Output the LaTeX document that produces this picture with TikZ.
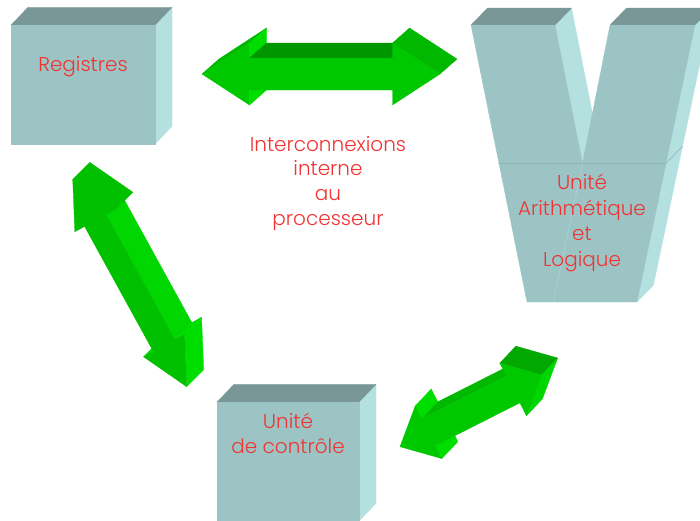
\documentclass[tikz,border=0pt]{standalone}
\usepackage{fontspec}
\newfontfamily\lblfont{Poppins Light}
\usetikzlibrary{calc}

\definecolor{boxfront}{RGB}{157,196,196}
\definecolor{boxtop}{RGB}{120,151,150}
\definecolor{boxside}{RGB}{180,224,224}
\definecolor{boxseam}{RGB}{138,176,176}
\definecolor{boxseamlt}{RGB}{176,214,214}
\definecolor{txtred}{RGB}{240,52,52}
\definecolor{gfront}{RGB}{0,200,0}
\definecolor{gfrontb}{RGB}{0,192,0}
\definecolor{gdark}{RGB}{0,150,0}
\definecolor{gmid}{RGB}{0,184,0}
\definecolor{gslope}{RGB}{0,168,0}
\definecolor{gbright}{RGB}{0,222,0}
\definecolor{gbrightb}{RGB}{0,214,0}

% Corner points of an extruded double arrow.
% #1 name, #2 first tip, #3 second tip, #4 head length, #5 head half-width,
% #6 shaft half-width, #7/#8 depth offset (back face shift).
\newcommand\arrowpts[8]{%
  \coordinate (#1T1) at #2;
  \coordinate (#1T2) at #3;
  \coordinate (#1H1p) at ($(#1T1)!#4!(#1T2)!#5!90:(#1T2)$);
  \coordinate (#1H1m) at ($(#1T1)!#4!(#1T2)!#5!-90:(#1T2)$);
  \coordinate (#1S1p) at ($(#1T1)!#4!(#1T2)!#6!90:(#1T2)$);
  \coordinate (#1S1m) at ($(#1T1)!#4!(#1T2)!#6!-90:(#1T2)$);
  \coordinate (#1H2p) at ($(#1T2)!#4!(#1T1)!#5!-90:(#1T1)$);
  \coordinate (#1H2m) at ($(#1T2)!#4!(#1T1)!#5!90:(#1T1)$);
  \coordinate (#1S2p) at ($(#1T2)!#4!(#1T1)!#6!-90:(#1T1)$);
  \coordinate (#1S2m) at ($(#1T2)!#4!(#1T1)!#6!90:(#1T1)$);
  \foreach \q in {T1,T2,H1p,H1m,S1p,S1m,H2p,H2m,S2p,S2m}
    {\coordinate (#1\q b) at ($(#1\q)+(#7,#8)$);}
}
\newcommand\arrowfront[2]{%
  \fill[face=#2] (#1T1) -- (#1H1p) -- (#1S1p) -- (#1S2p) -- (#1H2p) -- (#1T2)
    -- (#1H2m) -- (#1S2m) -- (#1S1m) -- (#1H1m) -- cycle;
}
% side face along the edge from point #2 to point #3 of arrow #1
\newcommand\arrowside[4]{%
  \fill[face=#4] (#1#2) -- (#1#3) -- (#1#3b) -- (#1#2b) -- cycle;
}

\begin{document}
\begin{tikzpicture}[x=1pt,y=-1pt,
  face/.style={fill=#1,draw=#1,line width=0.3pt,line join=round},
  lbl/.style={font=\lblfont\fontsize{20}{24}\selectfont,text=txtred,anchor=base,inner sep=0pt}]
\useasboundingbox (0,0) rectangle (700,520);

% ---- Registres block
\fill[face=boxside] (155,25) -- (172,7.3) -- (172,126.3) -- (155,144) -- cycle;
\fill[face=boxtop] (11,25) -- (28,7.3) -- (172,7.3) -- (155,25) -- cycle;
\fill[face=boxfront] (11,25) rectangle (155,144);
\node[lbl] (reg) at (83,71) {Registres};

% ---- control unit block
\fill[face=boxside] (359,402) -- (376,384.3) -- (376,503.3) -- (359,521) -- cycle;
\fill[face=boxtop] (217,402) -- (234,384.3) -- (376,384.3) -- (359,402) -- cycle;
\fill[face=boxfront] (217,402) rectangle (359,521);
\node[lbl] (cu1) at (288,428.3) {Unité};
\node[lbl] (cu2) at (288,453.3) {de contrôle};

% ---- V-shaped ALU block
\coordinate (vA) at (471,25);   \coordinate (vB) at (555,25);
\coordinate (vV) at (582.5,163.3);
\coordinate (vC) at (610,25);   \coordinate (vD) at (695,25);
\coordinate (vE) at (637,302);  \coordinate (vF) at (527,302);
\foreach \q in {A,B,V,C,D,E,F} {\coordinate (v\q b) at ($(v\q)+(16.5,-17)$);}
\fill[face=boxside] (vB) -- (vBb) -- (vVb) -- (vV) -- cycle;
\fill[face=boxside] (vD) -- (vDb) -- (vEb) -- (vE) -- cycle;
\fill[face=boxtop] (vA) -- (vB) -- (vBb) -- (vAb) -- cycle;
\fill[face=boxtop] (vC) -- (vD) -- (vDb) -- (vCb) -- cycle;
\fill[face=boxfront] (vA) -- (vB) -- (vV) -- (vC) -- (vD) -- (vE) -- (vF) -- cycle;
\draw[boxseam,line width=0.5pt] (498.7,163.3) -- (666.1,163.3) -- (682.6,146.3);
\draw[boxseamlt,line width=0.5pt] (vV) -- (553.3,302);
\node[lbl] (alu1) at (582,189.5) {Unité};
\node[lbl] (alu2) at (582,215.2) {Arithmétique};
\node[lbl] (alu3) at (582,240.9) {et};
\node[lbl] (alu4) at (582,266.6) {Logique};

% ---- internal bus label
\node[lbl] (ic1) at (328,151) {Interconnexions};
\node[lbl] (ic2) at (328,175.7) {interne};
\node[lbl] (ic3) at (328,200.3) {au};
\node[lbl] (ic4) at (328,225) {processeur};

% ---- arrow Registres <-> ALU
\arrowpts{a}{(202,74)}{(440,74)}{47.5pt}{31pt}{16pt}{17}{-15}
\arrowside{a}{T1}{H1p}{gmid}
\arrowside{a}{H1p}{S1p}{gbright}
\arrowside{a}{S1m}{H1m}{gbright}
\arrowside{a}{S1p}{S2p}{gdark}
\arrowside{a}{H2p}{T2}{gmid}
\arrowfront{a}{gfront}

% ---- arrow Registres <-> control unit
\arrowpts{b}{(72.7,179.3)}{(186.7,386.7)}{47pt}{23.4pt}{12.3pt}{17}{-17}
\arrowside{b}{S2p}{H2p}{gbright}
\arrowside{b}{H2m}{S2m}{gbright}
\arrowside{b}{H2p}{T2}{gbright}
\arrowside{b}{S1p}{S2p}{gbrightb}
\arrowside{b}{T1}{H1p}{gfrontb}
\arrowfront{b}{gfrontb}

% ---- arrow control unit <-> ALU
\arrowpts{c}{(400,446.7)}{(541.7,375)}{32pt}{29.5pt}{15pt}{16}{-17}
\arrowside{c}{H1p}{S1p}{gbright}
\arrowside{c}{S1m}{H1m}{gbright}
\arrowside{c}{S1p}{S2p}{gmid}
\arrowside{c}{H2p}{T2}{gslope}
\arrowside{c}{T2}{H2m}{gbrightb}
\arrowfront{c}{gfront}
\end{tikzpicture}
\end{document}
